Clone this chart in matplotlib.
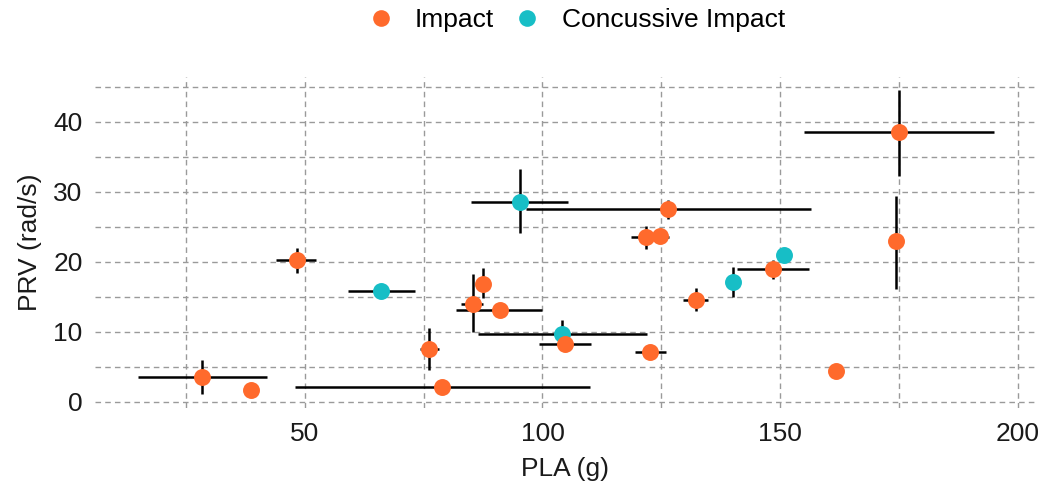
import numpy as np
import matplotlib
matplotlib.use("Agg")
import matplotlib.pyplot as plt
from matplotlib.lines import Line2D

# Impact points (PLA g, PRV rad/s) with error bar ranges (nan = none)
imp_pla = [28.4, 38.7, 48.3, 76.1, 78.9, 85.3, 87.6, 91.0, 104.8, 121.8,
           124.8, 126.5, 122.7, 132.3, 148.5, 161.7, 174.3, 175.0]
imp_prv = [3.5, 1.7, 20.2, 7.6, 2.1, 14.0, 16.8, 13.1, 8.3, 23.5,
           23.7, 27.5, 7.05, 14.6, 18.9, 4.4, 22.9, 38.5]
imp_xlo = [14.9, np.nan, 44.0, 74.2, 47.9, 82.9, np.nan, 81.9, 99.2, 118.6,
           np.nan, 96.6, 119.5, 129.6, 141.0, np.nan, np.nan, 155.0]
imp_xhi = [42.1, np.nan, 52.3, 78.2, 109.9, 87.6, np.nan, 99.9, 110.2, 126.7,
           np.nan, 156.5, 126.0, 134.9, 156.0, np.nan, np.nan, 195.0]
imp_ylo = [1.1, np.nan, 18.4, 4.5, np.nan, 9.9, 14.8, np.nan, np.nan, 21.8,
           np.nan, 26.1, np.nan, 13.0, 17.6, np.nan, 16.1, 32.2]
imp_yhi = [6.0, np.nan, 21.9, 10.5, np.nan, 18.2, 19.1, np.nan, np.nan, 25.1,
           np.nan, 28.8, np.nan, 16.2, 20.2, np.nan, 29.4, 44.6]

# Concussive impact points
con_pla = [66.1, 95.2, 104.1, 140.0, 150.8]
con_prv = [15.8, 28.6, 9.7, 17.1, 21.0]
con_xlo = [59.1, 85.0, 86.4, np.nan, np.nan]
con_xhi = [73.1, 105.3, 122.0, np.nan, np.nan]
con_ylo = [np.nan, 24.1, np.nan, 15.0, np.nan]
con_yhi = [np.nan, 33.2, 11.7, 19.2, np.nan]

ORANGE = "#FF6A2C"
CYAN = "#17BEC6"

plt.rcParams['font.family'] = ['Liberation Sans', 'DejaVu Sans']

fig = plt.figure(figsize=(10.42, 4.84), dpi=100)
ax = fig.add_axes([0.0912, 0.157, 0.9021, 0.684])

grid_kw = dict(color="#9a9a9a", lw=1.0, ls=(0, (4, 3)), zorder=0)
for gx in [25, 50, 75, 100, 125, 150, 175, 200]:
    ax.axvline(gx, **grid_kw)
for gy in [0, 5, 10, 15, 20, 25, 30, 35, 40, 45]:
    ax.axhline(gy, **grid_kw)


def draw_bars(x, y, xlo, xhi, ylo, yhi):
    for i in range(len(x)):
        if not np.isnan(xlo[i]):
            ax.plot([xlo[i], xhi[i]], [y[i], y[i]], color="black", lw=1.8, zorder=2,
                    solid_capstyle="butt")
        lo = ylo[i] if not np.isnan(ylo[i]) else y[i]
        hi = yhi[i] if not np.isnan(yhi[i]) else y[i]
        if lo != hi:
            ax.plot([x[i], x[i]], [lo, hi], color="black", lw=1.8, zorder=2,
                    solid_capstyle="butt")


draw_bars(con_pla, con_prv, con_xlo, con_xhi, con_ylo, con_yhi)
draw_bars(imp_pla, imp_prv, imp_xlo, imp_xhi, imp_ylo, imp_yhi)

ax.plot(con_pla, con_prv, "o", color=CYAN, ms=12.2, mew=0, zorder=3)
ax.plot(imp_pla, imp_prv, "o", color=ORANGE, ms=12.2, mew=0, zorder=4)

ax.set_xlim(5.9, 203.6)
ax.set_ylim(-0.9, 46.4)
ax.set_xticks([50, 100, 150, 200])
ax.set_yticks([0, 10, 20, 30, 40])
ax.tick_params(length=0, labelsize=19, colors="#1a1a1a")
ax.tick_params(axis="x", pad=10)
ax.tick_params(axis="y", pad=9)
for s in ax.spines.values():
    s.set_visible(False)
ax.set_xlabel("PLA (g)", fontsize=19, color="#1a1a1a", labelpad=8)
ax.set_ylabel("PRV (rad/s)", fontsize=19, color="#1a1a1a", labelpad=8)

handles = [Line2D([], [], marker="o", ls="", color=ORANGE, ms=12, mew=0),
           Line2D([], [], marker="o", ls="", color=CYAN, ms=12, mew=0)]
fig.legend(handles, ["Impact", "Concussive Impact"], loc="center",
           bbox_to_anchor=(0.553, 0.959), ncol=2, frameon=False, fontsize=19,
           handlelength=1.0, handletextpad=0.8, columnspacing=0.75)

fig.savefig("out.png", dpi=100)
